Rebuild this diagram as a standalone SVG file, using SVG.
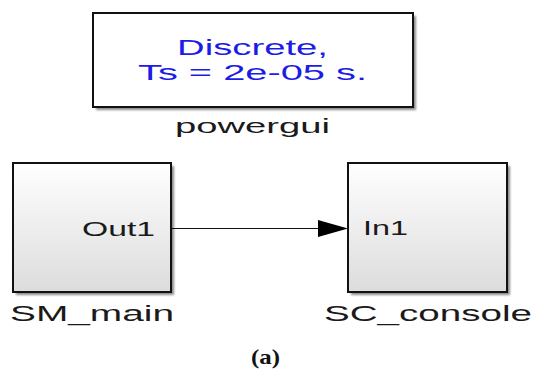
<svg xmlns="http://www.w3.org/2000/svg" width="535" height="370" viewBox="0 0 535 370">
<style>
.box{stroke:#111;stroke-width:2}
.shadow{fill:#8a8a8a}
.lbl{font-family:"Liberation Sans",Arial,sans-serif;fill:#1a1a1a}
.blue{font-family:"Liberation Sans",Arial,sans-serif;fill:#1c1ce6}
.cap{font-family:"Liberation Serif","Times New Roman",serif;font-weight:bold;fill:#111}
</style>
<defs>
<linearGradient id="g" x1="0" y1="0" x2="0" y2="1">
<stop offset="0" stop-color="#ffffff"/>
<stop offset="1" stop-color="#dcdcdc"/>
</linearGradient>
<filter id="blur" x="-10%" y="-10%" width="120%" height="120%">
<feGaussianBlur stdDeviation="1"/>
</filter>
</defs>
<rect width="535" height="370" fill="#ffffff"/>
<g id="powergui">
<rect class="shadow" x="96" y="16" width="320" height="94" filter="url(#blur)"/>
<rect class="box" x="93" y="13" width="320" height="94" fill="#ffffff"/>
<text class="blue" x="177" y="55" font-size="22" textLength="151" lengthAdjust="spacingAndGlyphs">Discrete,</text>
<text class="blue" x="138" y="80" font-size="22" textLength="229" lengthAdjust="spacingAndGlyphs">Ts = 2e-05 s.</text>
<text class="lbl" x="175" y="133" font-size="21" textLength="155" lengthAdjust="spacingAndGlyphs">powergui</text>
</g>
<g id="SM_main">
<rect class="shadow" x="16" y="166" width="158" height="129" filter="url(#blur)"/>
<rect class="box" x="13" y="163" width="158" height="129" fill="url(#g)"/>
<text class="lbl" x="82" y="236" font-size="21" textLength="73" lengthAdjust="spacingAndGlyphs">Out1</text>
<text class="lbl" x="10" y="321" font-size="22" textLength="164" lengthAdjust="spacingAndGlyphs">SM_main</text>
</g>
<g id="SC_console">
<rect class="shadow" x="351" y="166" width="159" height="129" filter="url(#blur)"/>
<rect class="box" x="348" y="163" width="159" height="129" fill="url(#g)"/>
<text class="lbl" x="363" y="235" font-size="21" textLength="45" lengthAdjust="spacingAndGlyphs">In1</text>
<text class="lbl" x="324" y="321" font-size="22" textLength="208" lengthAdjust="spacingAndGlyphs">SC_console</text>
</g>
<g id="connectors">
<line x1="172" y1="228.5" x2="320" y2="228.5" stroke="#111" stroke-width="1"/>
<polygon points="318,220 348,228.5 318,237" fill="#000"/>
</g>
<text class="cap" x="251" y="364" font-size="21" textLength="29" lengthAdjust="spacingAndGlyphs">(a)</text>
</svg>
